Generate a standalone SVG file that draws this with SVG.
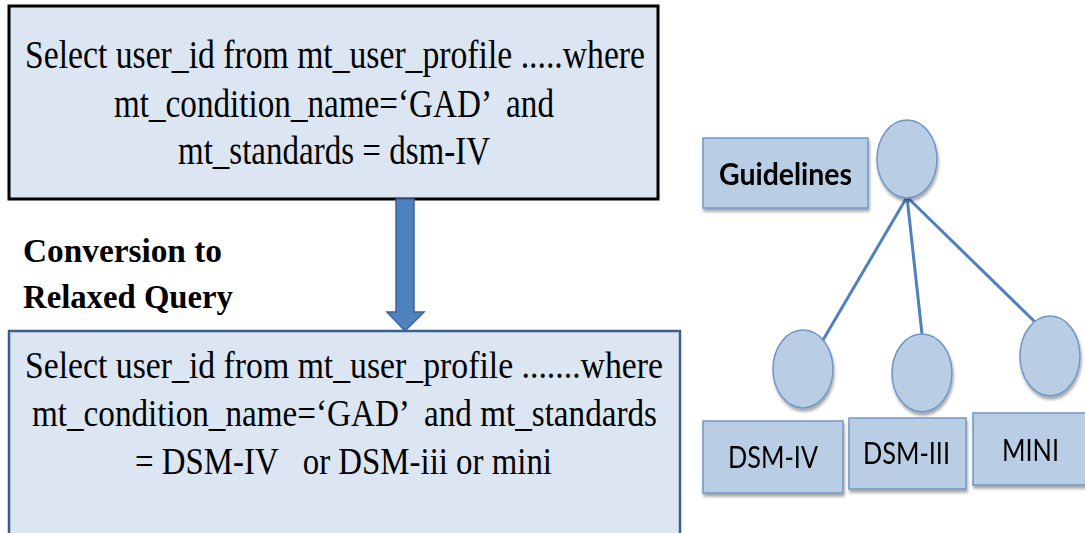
<svg xmlns="http://www.w3.org/2000/svg" width="1085" height="533" viewBox="0 0 1085 533">
  <style>
    .query { fill: #DCE6F2; }
    .serif { font-family: "Liberation Serif", "Times New Roman", serif; fill: #000; }
    .q { font-size: 39px; text-anchor: middle; }
    .q2 { font-size: 38px; text-anchor: middle; }
    .label { font-size: 34px; font-weight: bold; }
    .node { fill: #B9CDE5; stroke: #7096C6; stroke-width: 1.5; }
    .sans { font-family: Lato, "Open Sans", "Liberation Sans", sans-serif; fill: #000; text-anchor: middle; }
    .edge { stroke: #4F81BD; stroke-width: 3; fill: none; }
  </style>
  <defs>
    <filter id="shadow" x="-10%" y="-10%" width="125%" height="130%">
      <feGaussianBlur in="SourceAlpha" stdDeviation="1.5"/>
      <feOffset dx="1" dy="3" result="b"/>
      <feComponentTransfer><feFuncA type="linear" slope="0.35"/></feComponentTransfer>
      <feMerge><feMergeNode/><feMergeNode in="SourceGraphic"/></feMerge>
    </filter>
  </defs>
  <rect width="1085" height="533" fill="#fff"/>

  <!-- original query -->
  <g id="query-original">
    <rect class="query" x="9" y="6" width="649" height="193" stroke="#000" stroke-width="3"/>
    <text class="serif q" x="335" y="68" textLength="620" lengthAdjust="spacingAndGlyphs">Select user_id from mt_user_profile  .....where</text>
    <text class="serif q" x="334" y="117" textLength="440" lengthAdjust="spacingAndGlyphs" xml:space="preserve">mt_condition_name=‘GAD’  and</text>
    <text class="serif q" x="334" y="164" textLength="312" lengthAdjust="spacingAndGlyphs">mt_standards = dsm-IV</text>
  </g>

  <!-- conversion step -->
  <g id="conversion-label">
    <text class="serif label" x="23" y="262" textLength="199" lengthAdjust="spacingAndGlyphs">Conversion to</text>
    <text class="serif label" x="23" y="308" textLength="210" lengthAdjust="spacingAndGlyphs">Relaxed Query</text>
  </g>

  <!-- relaxed query -->
  <g id="query-relaxed">
    <rect class="query" x="9" y="331" width="671" height="210" stroke="#3B5E8C" stroke-width="2.5"/>
    <text class="serif q2" x="344" y="378" textLength="638" lengthAdjust="spacingAndGlyphs">Select user_id from mt_user_profile  .......where</text>
    <text class="serif q2" x="344.5" y="426" textLength="625" lengthAdjust="spacingAndGlyphs" xml:space="preserve">mt_condition_name=‘GAD’  and mt_standards</text>
    <text class="serif q2" x="343.5" y="474" textLength="417" lengthAdjust="spacingAndGlyphs" xml:space="preserve">= DSM-IV   or DSM-iii or mini</text>
  </g>

  <!-- connectors -->
  <g id="connectors">
    <path id="arrow" d="M396,199 H414 V312 H424 L405,331 L387,312 H396 Z" fill="#4F81BD" stroke="#3B639A" stroke-width="1.5"/>
    <line class="edge" x1="907" y1="197" x2="823" y2="340"/>
    <line class="edge" x1="907" y1="197" x2="922" y2="334"/>
    <line class="edge" x1="907" y1="197" x2="1035" y2="322"/>
  </g>

  <!-- guideline tree -->
  <g id="guidelines" filter="url(#shadow)">
    <rect class="node" x="703" y="138" width="165" height="70"/>
    <text class="sans" x="785.5" y="185" font-size="30" font-weight="bold" textLength="133" lengthAdjust="spacingAndGlyphs">Guidelines</text>
  </g>
  <g id="root" filter="url(#shadow)">
    <ellipse class="node" cx="907" cy="159" rx="30" ry="39"/>
  </g>
  <g id="leaf-dsm-iv" filter="url(#shadow)">
    <ellipse class="node" cx="803" cy="369" rx="30" ry="39"/>
  </g>
  <g id="leaf-dsm-iii" filter="url(#shadow)">
    <ellipse class="node" cx="922" cy="373" rx="30" ry="39"/>
  </g>
  <g id="leaf-mini" filter="url(#shadow)">
    <ellipse class="node" cx="1050" cy="356" rx="30" ry="40"/>
  </g>
  <g id="dsm-iv" filter="url(#shadow)">
    <rect class="node" x="703" y="421" width="140" height="72"/>
    <text class="sans" x="773" y="468" font-size="31" textLength="90" lengthAdjust="spacingAndGlyphs">DSM-IV</text>
  </g>
  <g id="dsm-iii" filter="url(#shadow)">
    <rect class="node" x="849" y="418" width="117" height="71"/>
    <text class="sans" x="906.5" y="464" font-size="31" textLength="87" lengthAdjust="spacingAndGlyphs">DSM-III</text>
  </g>
  <g id="mini" filter="url(#shadow)">
    <rect class="node" x="973" y="413" width="120" height="72"/>
    <text class="sans" x="1030.5" y="461" font-size="31" textLength="57" lengthAdjust="spacingAndGlyphs">MINI</text>
  </g>
</svg>
